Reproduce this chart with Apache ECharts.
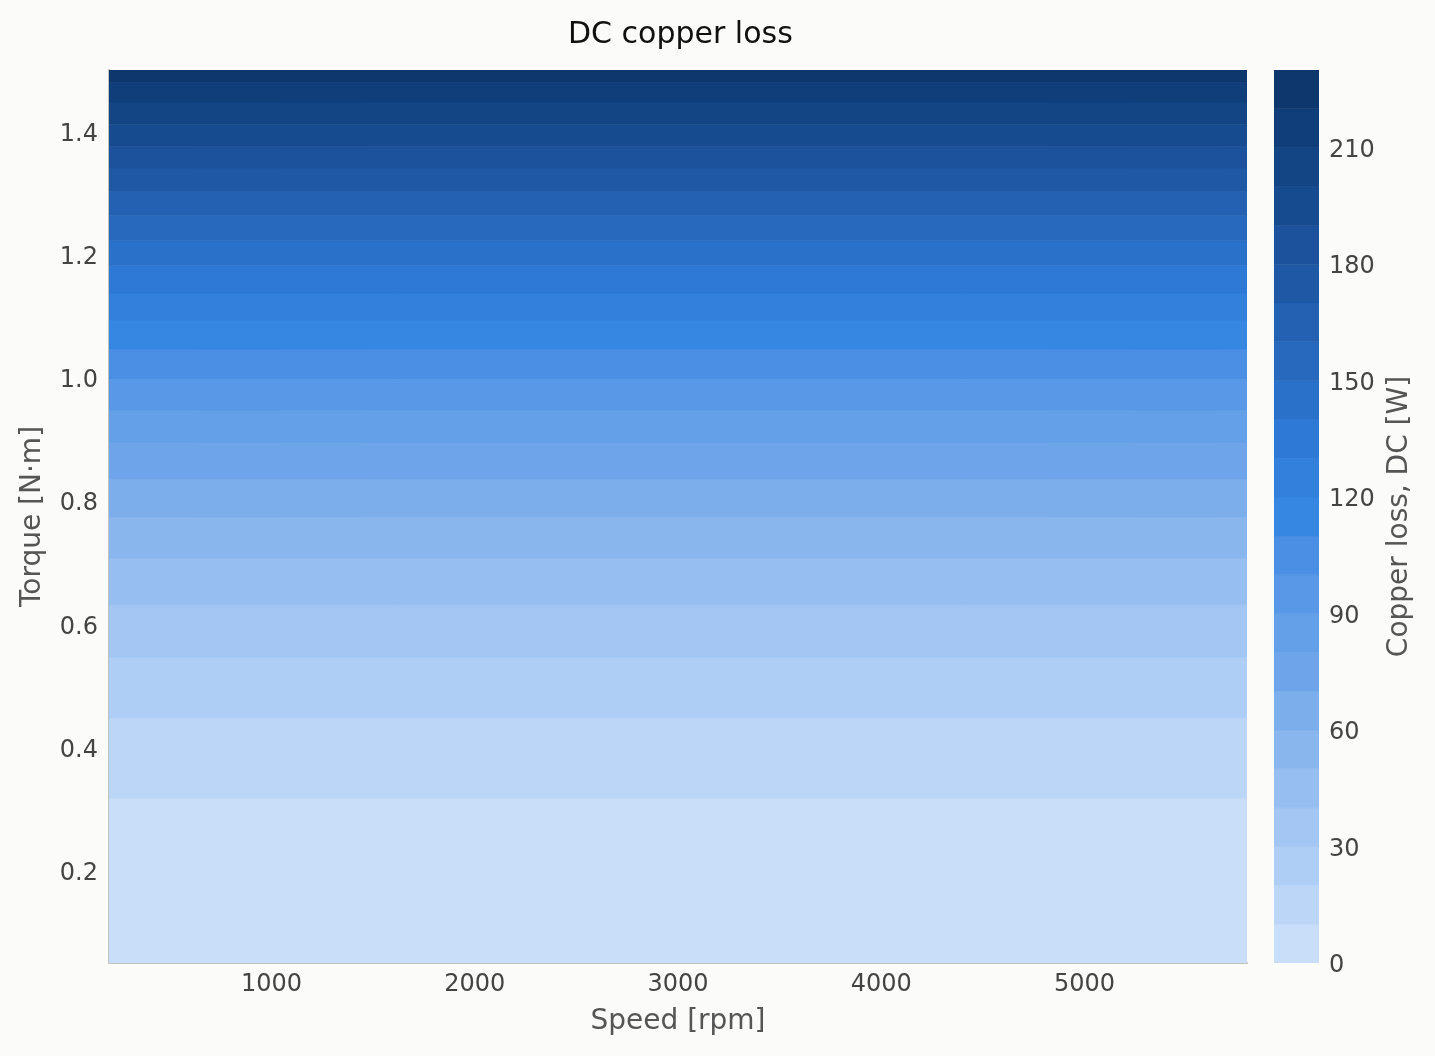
<!DOCTYPE html>
<html>
<head>
<meta charset="utf-8">
<script src="https://cdn.jsdelivr.net/npm/echarts@6/dist/echarts.min.js"></script>
<style>
html,body{margin:0;padding:0;background:#fbfbf9;}
#chart{width:1435px;height:1056px;}
</style>
</head>
<body>
<div id="chart"></div>
<script>
// ---- data ----
const speedRange = [200, 5800];          // rpm, extent of the map
const torqueRange = [0.05, 1.5];         // N·m, extent of the map
const lossLevels = [0,10,20,30,40,50,60,70,80,90,100,110,120,130,140,150,160,170,180,190,200,210,220,230];
// torque at which the loss reaches levels 10 … 220 (loss independent of speed)
const boundaryTorque = [0.317,0.448,0.547,0.632,0.707,0.774,0.836,0.894,0.948,0.998,1.047,1.094,1.138,1.182,1.223,1.264,1.303,1.341,1.376,1.412,1.448,1.480];
const bandColors = ['#c9def9','#bcd6f7','#afcef5','#a3c6f3','#96bef0','#8ab6ee','#7daeec','#6ea5ea','#64a0e8','#5898e6','#4a8fe4','#3687e2',
                    '#3280dc','#2e79d6','#2a71ca','#2869bd','#2461b2','#1f59a6','#1b529b','#174b90','#134484','#103e7a','#0d376d'];
const speedTicks = [1000,2000,3000,4000,5000];
const torqueTicks = [0.2,0.4,0.6,0.8,1.0,1.2,1.4];
const lossTicks = [0,30,60,90,120,150,180,210];

// ---- build band tables ----
const torqueEdges = [torqueRange[0]].concat(boundaryTorque, [torqueRange[1]]);
const mapBands = [];
for (let i = 0; i < torqueEdges.length - 1; i++) mapBands.push([torqueEdges[i], torqueEdges[i+1], i]);
const barBands = [];
for (let i = 0; i < lossLevels.length - 1; i++) barBands.push([lossLevels[i], lossLevels[i+1], i]);

const FONT = 'DejaVu Sans';
const chart = echarts.init(document.getElementById('chart'), null, {renderer:'canvas'});

function bandRect(xMin, xMax) {
  return function (params, api) {
    const lo = api.value(0), hi = api.value(1), ci = api.value(2);
    const pTop = api.coord([xMin, hi]);
    const pBot = api.coord([xMax, lo]);
    return {
      type: 'rect',
      shape: {x: pTop[0], y: pTop[1], width: pBot[0] - pTop[0], height: pBot[1] - pTop[1]},
      style: {fill: bandColors[ci], stroke: bandColors[ci], lineWidth: 0.6}
    };
  };
}

const labelRich = {t: {fontFamily: FONT, fontSize: 24, color: '#444', padding: [6, 0, 0, 0]}};

chart.setOption({
  backgroundColor: '#fbfbf9',
  animation: false,
  title: {
    text: 'DC copper loss', left: 563, top: 15,
    textStyle: {fontFamily: FONT, fontSize: 30, fontWeight: 'normal', color: '#111'}
  },
  grid: [
    {left: 109, top: 70, width: 1138, height: 893},
    {left: 1274, top: 70, width: 45, height: 893}
  ],
  xAxis: [
    {
      type: 'value', gridIndex: 0, min: speedRange[0], max: speedRange[1],
      name: 'Speed [rpm]', nameLocation: 'middle', nameGap: 45,
      nameTextStyle: {fontFamily: FONT, fontSize: 28, color: '#555'},
      axisLine: {show: true, onZero: false, lineStyle: {color: '#c2c2bd', width: 2}},
      axisTick: {show: false},
      splitLine: {show: false},
      axisLabel: {customValues: speedTicks, fontFamily: FONT, fontSize: 24, color: '#444', margin: 10,
                  formatter: v => String(v)}
    },
    {type: 'value', gridIndex: 1, min: 0, max: 1, show: false}
  ],
  yAxis: [
    {
      type: 'value', gridIndex: 0, min: torqueRange[0], max: torqueRange[1],
      name: 'Torque [N·m]', nameLocation: 'middle', nameGap: 62, nameRotate: 90,
      nameTextStyle: {fontFamily: FONT, fontSize: 28, color: '#555'},
      axisLine: {show: true, onZero: false, lineStyle: {color: '#c2c2bd', width: 2}},
      axisTick: {show: false},
      splitLine: {show: false},
      axisLabel: {customValues: torqueTicks, margin: 11, rich: labelRich,
                  formatter: v => '{t|' + v.toFixed(1) + '}'}
    },
    {
      type: 'value', gridIndex: 1, min: 0, max: 230, position: 'right',
      name: 'Copper loss, DC [W]', nameLocation: 'middle', nameGap: 67, nameRotate: 90,
      nameTextStyle: {fontFamily: FONT, fontSize: 28, color: '#555'},
      axisLine: {show: false},
      axisTick: {show: false},
      splitLine: {show: false},
      axisLabel: {customValues: lossTicks, margin: 10, rich: labelRich,
                  formatter: v => '{t|' + v + '}'}
    }
  ],
  series: [
    {
      type: 'custom', xAxisIndex: 0, yAxisIndex: 0, clip: true,
      renderItem: bandRect(speedRange[0], speedRange[1]),
      encode: {x: -1, y: [0, 1]},
      data: mapBands, z: 1
    },
    {
      type: 'custom', xAxisIndex: 1, yAxisIndex: 1, clip: true,
      renderItem: bandRect(0, 1),
      encode: {x: -1, y: [0, 1]},
      data: barBands, z: 1
    }
  ]
});
</script>
</body>
</html>
